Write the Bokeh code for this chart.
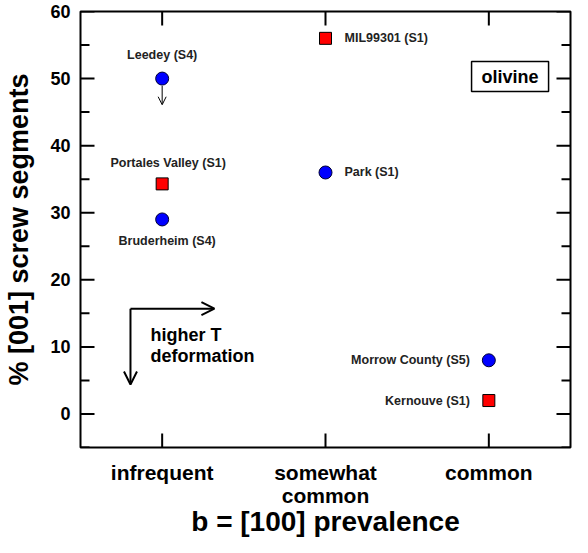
import math
from bokeh.plotting import figure
from bokeh.models import Range1d, FixedTicker, Arrow, OpenHead, Label
from bokeh.embed import file_html
from bokeh.resources import INLINE

# ---- data ----
categories = ["infrequent", "somewhat\ncommon", "common"]
cat_pos = [1, 2, 3]
y_major = [0, 10, 20, 30, 40, 50, 60]
y_minor = [-5, 5, 15, 25, 35, 45, 55]

circle_names = ["Leedey (S4)", "Bruderheim (S4)", "Park (S1)", "Morrow County (S5)"]
circle_x = [1, 1, 2, 3]
circle_y = [50, 29, 36, 8]

square_names = ["Portales Valley (S1)", "MIL99301 (S1)", "Kernouve (S1)"]
square_x = [1, 2, 3]
square_y = [34.3, 56, 2]

FONT = "Liberation Sans"
X0, X1, Y0, Y1 = 0.5, 3.5, -5, 60
FW, FH = 490, 436
BL, BR, BT, BB = 80, 2, 11, 90

p = figure(frame_width=FW, frame_height=FH, x_range=Range1d(X0, X1), y_range=Range1d(Y0, Y1),
           output_backend="svg", toolbar_location=None,
           min_border_left=BL, min_border_right=BR, min_border_top=BT, min_border_bottom=BB)
p.grid.visible = False
p.outline_line_color = "black"
p.outline_line_width = 2

# bottom axis: category labels and title
xa = p.xaxis[0]
xa.ticker = FixedTicker(ticks=cat_pos)
xa.major_label_overrides = dict(zip(cat_pos, categories))
xa.axis_line_color = None
xa.major_tick_line_color = None
xa.minor_tick_line_color = None
xa.major_tick_in = 0
xa.major_tick_out = 0
xa.major_label_text_font = FONT
xa.major_label_text_font_style = "bold"
xa.major_label_text_font_size = "21px"
xa.major_label_text_color = "black"
xa.major_label_text_line_height = 1.0
xa.major_label_standoff = 13
xa.axis_label = "b = [100] prevalence"
xa.axis_label_text_font = FONT
xa.axis_label_text_font_style = "bold"
xa.axis_label_text_font_size = "28px"
xa.axis_label_text_color = "black"
xa.axis_label_standoff = -4

# left axis: labels and title
ya = p.yaxis[0]
ya.ticker = FixedTicker(ticks=y_major)
ya.axis_line_color = None
ya.major_tick_line_color = None
ya.minor_tick_line_color = None
ya.major_tick_in = 0
ya.major_tick_out = 0
ya.major_label_text_font = FONT
ya.major_label_text_font_style = "bold"
ya.major_label_text_font_size = "18px"
ya.major_label_text_color = "black"
ya.major_label_standoff = 10
ya.axis_label = "% [001] screw segments"
ya.axis_label_text_font = FONT
ya.axis_label_text_font_style = "bold"
ya.axis_label_text_font_size = "27px"
ya.axis_label_text_color = "black"
ya.axis_label_standoff = 13

# ---- tick marks inside the frame (dash markers centred half a tick inside the edge) ----
px_x = (X1 - X0) / FW
px_y = (Y1 - Y0) / FH
m, k, n = len(y_major), len(y_minor), len(cat_pos)
tk = dict(marker="dash", line_color="black", line_width=2)
p.scatter(x=[X0 + 7 * px_x] * m + [X1 - 7 * px_x] * m, y=y_major + y_major, size=14, **tk)
p.scatter(x=[X0 + 4.5 * px_x] * k + [X1 - 4.5 * px_x] * k, y=y_minor + y_minor, size=9, **tk)
p.scatter(x=cat_pos + cat_pos, y=[Y0 + 7 * px_y] * n + [Y1 - 7 * px_y] * n, size=14,
          angle=math.pi / 2, **tk)

# ---- markers ----
p.scatter(circle_x, circle_y, marker="circle", size=13, fill_color="#0000ff",
          line_color="#000033", line_width=1)
p.scatter(square_x, square_y, marker="square", size=12, fill_color="#ff0000",
          line_color="#000000", line_width=1)

# ---- point labels ----
label_style = {
    "Leedey (S4)": dict(x_offset=0, y_offset=24, text_align="center"),
    "Bruderheim (S4)": dict(x_offset=5, y_offset=-22, text_align="center"),
    "Park (S1)": dict(x_offset=19, y_offset=0, text_align="left"),
    "Morrow County (S5)": dict(x_offset=-19, y_offset=0, text_align="right"),
    "Portales Valley (S1)": dict(x_offset=6, y_offset=21, text_align="center"),
    "MIL99301 (S1)": dict(x_offset=19, y_offset=0, text_align="left"),
    "Kernouve (S1)": dict(x_offset=-19, y_offset=0, text_align="right"),
}
for names, xs, ys in ((circle_names, circle_x, circle_y), (square_names, square_x, square_y)):
    for nm, x, y in zip(names, xs, ys):
        p.add_layout(Label(x=x, y=y, text=nm, text_font=FONT, text_font_style="bold",
                           text_font_size="12.5px", text_color="#222222",
                           text_baseline="middle", **label_style[nm]))

# Leedey upper-limit arrow
p.add_layout(Arrow(end=OpenHead(size=8, line_width=1, line_color="black"),
                   x_start=circle_x[0], y_start=circle_y[0] - 1.1,
                   x_end=circle_x[0], y_end=circle_y[0] - 3.9,
                   line_width=1, line_color="black"))

# olivine box
p.add_layout(Label(x=3.13, y=50.3, text="olivine", text_font=FONT, text_font_style="bold",
                   text_font_size="18px", text_color="black", text_align="center",
                   text_baseline="middle", border_line_color="black", border_line_width=1.5,
                   background_fill_color="white", padding=(10, 5)))

# higher T deformation arrows
p.add_layout(Arrow(end=OpenHead(size=13, line_width=2, line_color="black"),
                   x_start=0.806, y_start=15.7, x_end=1.32, y_end=15.7,
                   line_width=2, line_color="black"))
p.add_layout(Arrow(end=OpenHead(size=13, line_width=2, line_color="black"),
                   x_start=0.806, y_start=15.7, x_end=0.806, y_end=4.4,
                   line_width=2, line_color="black"))
for txt, yy in (("higher T", 11.8), ("deformation", 8.7)):
    p.add_layout(Label(x=0.929, y=yy, text=txt, text_font=FONT, text_font_style="bold",
                       text_font_size="18px", text_color="black", text_align="left",
                       text_baseline="middle"))

open("out.html", "w").write(file_html(p, INLINE))
